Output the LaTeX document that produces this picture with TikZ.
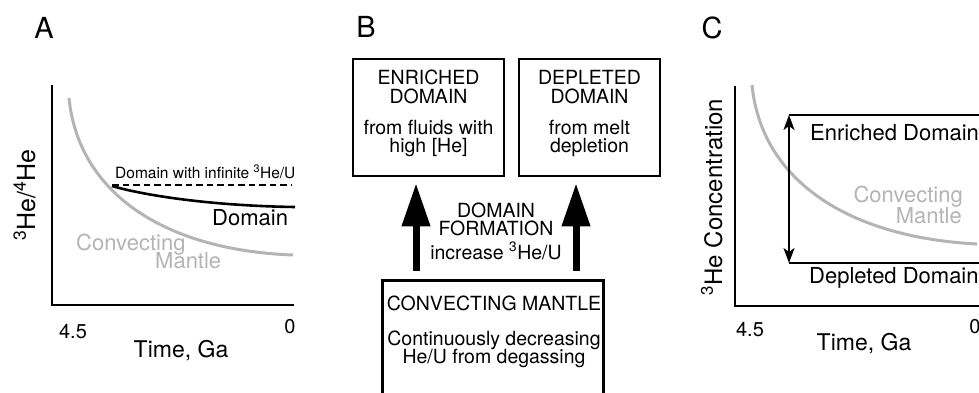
\documentclass[tikz,border=0pt]{standalone}
\usepackage{fontspec}
\setmainfont{TeX Gyre Heros}
\usetikzlibrary{arrows.meta}
\definecolor{mgray}{RGB}{180,180,180}
\begin{document}
\begin{tikzpicture}[x=1pt,y=-1pt,
  panel/.style={font=\fontsize{29}{32}\selectfont, anchor=base, inner sep=0pt},
  axlab/.style={font=\fontsize{23}{26}\selectfont, inner sep=0pt},
  ticklab/.style={font=\fontsize{20}{24}\selectfont, anchor=base, inner sep=0pt},
  curvelab/.style={font=\fontsize{22}{24}\selectfont, inner sep=0pt},
  graylab/.style={curvelab, text=mgray},
  axisline/.style={line width=2.6pt},
  mantle/.style={draw=mgray, line width=3pt},
  boxline/.style={draw, line width=2.6pt, inner sep=0pt},
  boxtxt/.style={font=\fontsize{19.5}{21}\selectfont, anchor=base, inner sep=0pt},
  bigarrow/.style={line width=7pt, -{Triangle[width=27pt,length=43pt]}},
  levelline/.style={line width=2.6pt},
  twohead/.style={line width=2.2pt, {Stealth[length=15pt,width=11pt,inset=4pt]}-{Stealth[length=15pt,width=11pt,inset=4pt]}}
]
\useasboundingbox (0,0) rectangle (979,393);
\clip (0,0) rectangle (979,393);

% ================= Panel A =================
\node[panel] (lblA) at (44,39) {A};
\coordinate (aO) at (52,305);
\coordinate (aT) at (52,85);
\coordinate (aR) at (294,305);
\draw[axisline] (aT) -- (aO) -- (aR);
\draw[mantle] (69,98) .. controls (78,190) and (160,250) .. (293,255);
\coordinate (aSplit) at (112,186);
\coordinate (aDashEnd) at (292,185);
\coordinate (aDomEnd) at (295,207);
\draw[line width=2pt, dash pattern=on 6.5pt off 4pt] (aSplit |- aDashEnd) -- (aDashEnd);
\draw[line width=2.6pt] (aSplit) .. controls (150,197) and (220,206) .. (aDomEnd);
\node[font=\fontsize{15.5}{18}\selectfont, anchor=base west, inner sep=0pt] (infl) at (115,178) {Domain with infinite \textsuperscript{3}He/U};
\node[curvelab, anchor=base west] (doml) at (212,225) {Domain};
\node[graylab, anchor=base west] (cmA1) at (76,250) {Convecting};
\node[graylab, anchor=base west] (cmA2) at (155,268) {Mantle};
\node[ticklab] (tA1) at (73,338) {4.5};
\node[ticklab] (tA2) at (290,333) {0};
\node[axlab, anchor=base] (xA) at (181,357) {Time, Ga};
\node[font=\fontsize{25}{28}\selectfont, inner sep=0pt, rotate=90, anchor=base] (yA) at (35,195) {\textsuperscript{3}He/\textsuperscript{4}He};

% ================= Panel B =================
\node[panel] (lblB) at (366,38) {B};
\node[boxline, minimum width=151pt, minimum height=117pt] (enr) at (428.5,117.5) {};
\node[boxline, minimum width=141pt, minimum height=117pt] (dep) at (589.5,117.5) {};
\node[boxline, minimum width=221pt, minimum height=140pt, anchor=north] (conv) at (493,279) {};

\node[boxtxt] (e1) at (428.5,85) {ENRICHED};
\node[boxtxt] (e2) at (428.5,103) {DOMAIN};
\node[boxtxt] (e3) at (428.5,135) {from fluids with};
\node[boxtxt] (e4) at (428.5,153) {high [He]};

\node[boxtxt] (d1) at (589.5,85) {DEPLETED};
\node[boxtxt] (d2) at (589.5,103) {DOMAIN};
\node[boxtxt] (d3) at (589.5,135) {from melt};
\node[boxtxt] (d4) at (589.5,153) {depletion};

\node[boxtxt] (f1) at (496,217) {DOMAIN};
\node[boxtxt] (f2) at (496,235) {FORMATION};
\node[boxtxt] (f3) at (496,259) {increase \textsuperscript{3}He/U};

\node[boxtxt] (c1) at (494,310) {CONVECTING MANTLE};
\node[boxtxt] (c2) at (494,345) {Continuously decreasing};
\node[boxtxt] (c3) at (494,363) {He/U from degassing};

\coordinate (arL) at (416,0);
\coordinate (arR) at (576,0);
\draw[bigarrow, shorten <=8pt, shorten >=6pt] (conv.north -| arL) -- (enr.south -| arL);
\draw[bigarrow, shorten <=8pt, shorten >=6pt] (conv.north -| arR) -- (dep.south -| arR);

% ================= Panel C =================
\node[panel] (lblC) at (712,39) {C};
\coordinate (cO) at (735,306);
\coordinate (cT) at (735,86);
\coordinate (cR) at (990,306);
\draw[axisline] (cT) -- (cO) -- (cR);
\draw[mantle] (752,85) .. controls (761,177) and (843,237) .. (977,244);
\coordinate (enrL) at (789,115);
\coordinate (enrR) at (990,115);
\coordinate (depL) at (789,263);
\coordinate (depR) at (990,263);
\draw[levelline] (enrL) -- (enrR);
\draw[levelline] (depL) -- (depR);
\draw[twohead] (enrL) -- (depL);
\node[curvelab, anchor=base west] (enrT) at (810,140) {Enriched Domain};
\node[curvelab, anchor=base west] (depT) at (809,283) {Depleted Domain};
\node[graylab, anchor=base east] (cmC1) at (963,202) {Convecting};
\node[graylab, anchor=base east] (cmC2) at (962,223) {Mantle};
\node[ticklab] (tC1) at (750,336) {4.5};
\node[ticklab] (tC2) at (975,333) {0};
\node[axlab, anchor=base] (xC) at (864,350) {Time, Ga};
\node[font=\fontsize{24}{27}\selectfont, inner sep=0pt, rotate=90, anchor=base] (yC) at (722,197) {\textsuperscript{3}He Concentration};
\end{tikzpicture}
\end{document}
